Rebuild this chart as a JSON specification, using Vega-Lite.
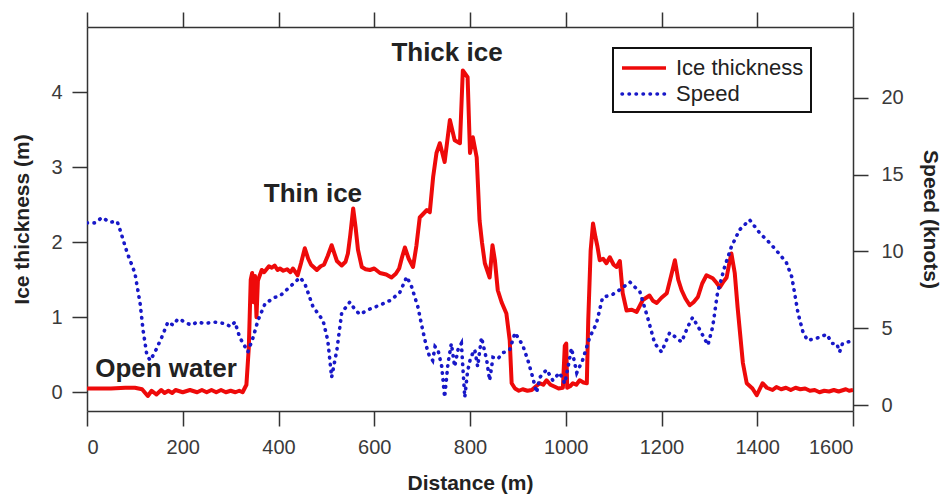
{
  "$schema": "https://vega.github.io/schema/vega-lite/v6.json",
  "width": 766,
  "height": 384,
  "autosize": {"type": "none"},
  "padding": {"left": 87, "top": 27, "right": 89, "bottom": 89},
  "background": "white",
  "config": {
    "view": {"stroke": null},
    "axis": {
      "grid": false,
      "domainColor": "#333333",
      "domainWidth": 1.5,
      "tickColor": "#333333",
      "tickWidth": 1.5,
      "tickSize": 15,
      "labelFont": "Liberation Sans",
      "labelFontSize": 20,
      "labelColor": "#3a3a3a",
      "titleFont": "Liberation Sans",
      "titleFontSize": 21,
      "titleFontWeight": "bold",
      "titleColor": "#222222"
    }
  },
  "datasets": {
    "ice": [
      {"d": 0, "t": 0.05}, {"d": 50, "t": 0.05}, {"d": 80, "t": 0.06}, {"d": 100, "t": 0.06}, {"d": 115, "t": 0.04},
      {"d": 127, "t": -0.05}, {"d": 135, "t": 0.02}, {"d": 145, "t": -0.03}, {"d": 155, "t": 0.03},
      {"d": 162, "t": -0.01}, {"d": 170, "t": 0.02}, {"d": 178, "t": -0.01}, {"d": 185, "t": 0.03}, {"d": 200, "t": 0.0}, {"d": 215, "t": 0.03},
      {"d": 230, "t": 0.0}, {"d": 240, "t": 0.03}, {"d": 250, "t": 0.0}, {"d": 260, "t": 0.03}, {"d": 270, "t": 0.0}, {"d": 280, "t": 0.03}, {"d": 290, "t": 0.0},
      {"d": 300, "t": 0.02}, {"d": 310, "t": 0.0}, {"d": 318, "t": 0.02}, {"d": 325, "t": 0.0}, {"d": 333, "t": 0.1}, {"d": 338, "t": 0.6},
      {"d": 342, "t": 1.5}, {"d": 345, "t": 1.59}, {"d": 348, "t": 1.2}, {"d": 351, "t": 1.55},
      {"d": 354, "t": 1.0}, {"d": 357, "t": 1.49}, {"d": 365, "t": 1.63}, {"d": 370, "t": 1.6}, {"d": 380, "t": 1.68},
      {"d": 386, "t": 1.66}, {"d": 392, "t": 1.69}, {"d": 398, "t": 1.63}, {"d": 403, "t": 1.65}, {"d": 410, "t": 1.62}, {"d": 418, "t": 1.64}, {"d": 425, "t": 1.6}, {"d": 430, "t": 1.65},
      {"d": 440, "t": 1.56}, {"d": 447, "t": 1.72}, {"d": 455, "t": 1.92}, {"d": 462, "t": 1.78}, {"d": 468, "t": 1.7}, {"d": 475, "t": 1.66}, {"d": 480, "t": 1.63},
      {"d": 488, "t": 1.68}, {"d": 495, "t": 1.7}, {"d": 503, "t": 1.82}, {"d": 511, "t": 1.96}, {"d": 522, "t": 1.75}, {"d": 532, "t": 1.69},
      {"d": 540, "t": 1.74}, {"d": 545, "t": 1.85}, {"d": 550, "t": 2.1}, {"d": 556, "t": 2.45}, {"d": 561, "t": 2.2}, {"d": 566, "t": 1.9}, {"d": 574, "t": 1.67},
      {"d": 582, "t": 1.64}, {"d": 591, "t": 1.63}, {"d": 600, "t": 1.65}, {"d": 612, "t": 1.59}, {"d": 625, "t": 1.57}, {"d": 636, "t": 1.53}, {"d": 645, "t": 1.58}, {"d": 652, "t": 1.65},
      {"d": 658, "t": 1.8}, {"d": 664, "t": 1.93}, {"d": 672, "t": 1.78}, {"d": 681, "t": 1.67}, {"d": 688, "t": 1.95}, {"d": 695, "t": 2.33}, {"d": 710, "t": 2.43},
      {"d": 716, "t": 2.4}, {"d": 723, "t": 2.87}, {"d": 730, "t": 3.19}, {"d": 737, "t": 3.32},
      {"d": 747, "t": 3.07}, {"d": 758, "t": 3.63}, {"d": 768, "t": 3.36}, {"d": 779, "t": 3.32},
      {"d": 785, "t": 4.29}, {"d": 795, "t": 4.2}, {"d": 800, "t": 3.19}, {"d": 806, "t": 3.4},
      {"d": 814, "t": 3.13}, {"d": 820, "t": 2.29}, {"d": 825, "t": 2.0}, {"d": 831, "t": 1.72},
      {"d": 841, "t": 1.53}, {"d": 847, "t": 1.96}, {"d": 852, "t": 1.76}, {"d": 858, "t": 1.36},
      {"d": 866, "t": 1.2}, {"d": 876, "t": 1.05}, {"d": 883, "t": 0.69}, {"d": 887, "t": 0.12}, {"d": 894, "t": 0.05},
      {"d": 902, "t": 0.02}, {"d": 910, "t": 0.04}, {"d": 920, "t": 0.02}, {"d": 929, "t": 0.03}, {"d": 938, "t": 0.08}, {"d": 946, "t": 0.12}, {"d": 953, "t": 0.1}, {"d": 960, "t": 0.16},
      {"d": 968, "t": 0.1}, {"d": 975, "t": 0.08}, {"d": 985, "t": 0.05}, {"d": 994, "t": 0.06}, {"d": 998, "t": 0.62},
      {"d": 1001, "t": 0.65}, {"d": 1003, "t": 0.06}, {"d": 1009, "t": 0.08}, {"d": 1015, "t": 0.12}, {"d": 1022, "t": 0.1}, {"d": 1029, "t": 0.16},
      {"d": 1037, "t": 0.13}, {"d": 1044, "t": 0.12}, {"d": 1047, "t": 0.96}, {"d": 1052, "t": 1.89}, {"d": 1057, "t": 2.25},
      {"d": 1062, "t": 2.07}, {"d": 1066, "t": 1.95}, {"d": 1071, "t": 1.76}, {"d": 1078, "t": 1.78}, {"d": 1085, "t": 1.72},
      {"d": 1092, "t": 1.8}, {"d": 1100, "t": 1.7}, {"d": 1106, "t": 1.67}, {"d": 1113, "t": 1.75},
      {"d": 1119, "t": 1.32}, {"d": 1127, "t": 1.09}, {"d": 1138, "t": 1.1}, {"d": 1148, "t": 1.07}, {"d": 1161, "t": 1.23},
      {"d": 1175, "t": 1.29}, {"d": 1182, "t": 1.22}, {"d": 1190, "t": 1.19}, {"d": 1200, "t": 1.26}, {"d": 1211, "t": 1.32}, {"d": 1220, "t": 1.55}, {"d": 1228, "t": 1.76},
      {"d": 1235, "t": 1.5}, {"d": 1242, "t": 1.36}, {"d": 1250, "t": 1.25}, {"d": 1259, "t": 1.16}, {"d": 1267, "t": 1.2}, {"d": 1276, "t": 1.27}, {"d": 1285, "t": 1.45}, {"d": 1294, "t": 1.56},
      {"d": 1307, "t": 1.52}, {"d": 1315, "t": 1.46}, {"d": 1322, "t": 1.4}, {"d": 1330, "t": 1.48}, {"d": 1336, "t": 1.53}, {"d": 1341, "t": 1.7}, {"d": 1346, "t": 1.85},
      {"d": 1353, "t": 1.59}, {"d": 1359, "t": 1.13}, {"d": 1370, "t": 0.39}, {"d": 1378, "t": 0.12},
      {"d": 1390, "t": 0.05}, {"d": 1399, "t": -0.04}, {"d": 1411, "t": 0.12}, {"d": 1420, "t": 0.06}, {"d": 1432, "t": 0.03},
      {"d": 1440, "t": 0.07}, {"d": 1450, "t": 0.04}, {"d": 1460, "t": 0.06}, {"d": 1470, "t": 0.03}, {"d": 1480, "t": 0.06}, {"d": 1490, "t": 0.04}, {"d": 1500, "t": 0.05}, {"d": 1510, "t": 0.02},
      {"d": 1520, "t": 0.03}, {"d": 1530, "t": 0.0}, {"d": 1540, "t": 0.02}, {"d": 1550, "t": 0.01}, {"d": 1560, "t": 0.03}, {"d": 1570, "t": 0.01}, {"d": 1585, "t": 0.04},
      {"d": 1592, "t": 0.02}, {"d": 1600, "t": 0.03}
    ],
    "speed": [
      {"d": 0, "s": 11.85}, {"d": 17, "s": 11.85}, {"d": 31, "s": 12.2}, {"d": 48, "s": 11.9},
      {"d": 63, "s": 11.95}, {"d": 69, "s": 11.4}, {"d": 84, "s": 9.9}, {"d": 100, "s": 8.6},
      {"d": 111, "s": 6.6}, {"d": 117, "s": 4.9}, {"d": 125, "s": 3.26}, {"d": 132, "s": 2.9},
      {"d": 142, "s": 3.45}, {"d": 156, "s": 4.4}, {"d": 169, "s": 5.4}, {"d": 180, "s": 5.2},
      {"d": 190, "s": 5.6}, {"d": 198, "s": 5.5}, {"d": 210, "s": 5.3}, {"d": 219, "s": 5.2},
      {"d": 230, "s": 5.4}, {"d": 246, "s": 5.3}, {"d": 265, "s": 5.4}, {"d": 288, "s": 5.3},
      {"d": 300, "s": 5.1}, {"d": 309, "s": 5.4}, {"d": 319, "s": 4.4}, {"d": 330, "s": 3.8},
      {"d": 336, "s": 3.45}, {"d": 347, "s": 4.4}, {"d": 357, "s": 5.5}, {"d": 372, "s": 6.6},
      {"d": 392, "s": 7.0}, {"d": 403, "s": 7.1}, {"d": 424, "s": 7.7}, {"d": 445, "s": 8.3},
      {"d": 455, "s": 7.9}, {"d": 472, "s": 6.4}, {"d": 493, "s": 5.5}, {"d": 503, "s": 4.2},
      {"d": 511, "s": 1.8}, {"d": 522, "s": 3.6}, {"d": 532, "s": 6.0}, {"d": 549, "s": 6.7},
      {"d": 560, "s": 6.2}, {"d": 570, "s": 5.9}, {"d": 587, "s": 6.2}, {"d": 612, "s": 6.5},
      {"d": 633, "s": 6.8}, {"d": 653, "s": 7.3}, {"d": 668, "s": 8.35}, {"d": 678, "s": 7.7},
      {"d": 691, "s": 6.4}, {"d": 701, "s": 4.9}, {"d": 709, "s": 3.8}, {"d": 715, "s": 3.2},
      {"d": 722, "s": 2.9}, {"d": 727, "s": 3.8}, {"d": 733, "s": 3.6}, {"d": 741, "s": 2.5},
      {"d": 747, "s": 0.5}, {"d": 754, "s": 2.7}, {"d": 761, "s": 4.0}, {"d": 768, "s": 2.5},
      {"d": 775, "s": 3.6}, {"d": 782, "s": 4.0}, {"d": 789, "s": 0.5}, {"d": 795, "s": 2.2},
      {"d": 800, "s": 2.9}, {"d": 806, "s": 3.4}, {"d": 810, "s": 3.6}, {"d": 816, "s": 2.5},
      {"d": 824, "s": 4.4}, {"d": 835, "s": 2.9}, {"d": 841, "s": 1.6}, {"d": 848, "s": 3.1},
      {"d": 858, "s": 3.0}, {"d": 869, "s": 3.4}, {"d": 883, "s": 3.6}, {"d": 894, "s": 4.7},
      {"d": 910, "s": 3.9}, {"d": 921, "s": 2.9}, {"d": 931, "s": 1.8}, {"d": 939, "s": 0.8},
      {"d": 946, "s": 1.8}, {"d": 960, "s": 2.3}, {"d": 973, "s": 1.6}, {"d": 987, "s": 2.1},
      {"d": 998, "s": 1.4}, {"d": 1005, "s": 2.5}, {"d": 1012, "s": 3.7}, {"d": 1023, "s": 2.1},
      {"d": 1035, "s": 2.9}, {"d": 1050, "s": 4.4}, {"d": 1064, "s": 5.3}, {"d": 1077, "s": 7.0},
      {"d": 1098, "s": 7.2}, {"d": 1113, "s": 7.5}, {"d": 1134, "s": 8.0}, {"d": 1155, "s": 7.35},
      {"d": 1171, "s": 5.7}, {"d": 1186, "s": 4.0}, {"d": 1200, "s": 3.45}, {"d": 1217, "s": 4.7},
      {"d": 1230, "s": 4.4}, {"d": 1242, "s": 4.1}, {"d": 1255, "s": 5.1}, {"d": 1265, "s": 5.7},
      {"d": 1280, "s": 4.9}, {"d": 1297, "s": 3.9}, {"d": 1307, "s": 5.1}, {"d": 1317, "s": 7.3},
      {"d": 1332, "s": 9.0}, {"d": 1346, "s": 10.3}, {"d": 1363, "s": 11.4}, {"d": 1384, "s": 12.05},
      {"d": 1405, "s": 11.2}, {"d": 1426, "s": 10.55}, {"d": 1447, "s": 9.8}, {"d": 1461, "s": 9.25},
      {"d": 1472, "s": 8.35}, {"d": 1478, "s": 7.3}, {"d": 1485, "s": 6.0}, {"d": 1495, "s": 4.8},
      {"d": 1505, "s": 4.2}, {"d": 1530, "s": 4.4}, {"d": 1545, "s": 4.6}, {"d": 1557, "s": 4.0},
      {"d": 1566, "s": 4.0}, {"d": 1572, "s": 3.45}, {"d": 1578, "s": 4.0}, {"d": 1600, "s": 4.2}
    ],
    "notes": [
      {"label": "Thick ice", "d": 752, "t": 4.53},
      {"label": "Thin ice", "d": 472, "t": 2.65},
      {"label": "Open water", "d": 165, "t": 0.31}
    ]
  },
  "layer": [
    {
      "data": {"name": "ice"},
      "mark": {"type": "line", "strokeWidth": 4, "strokeJoin": "round", "clip": true},
      "encoding": {
        "x": {
          "field": "d", "type": "quantitative",
          "scale": {"domain": [0, 1600], "nice": false, "zero": false},
          "axis": {"orient": "bottom", "title": "Distance (m)", "format": "d", "values": [0, 200, 400, 600, 800, 1000, 1200, 1400, 1600], "labelPadding": 11, "titlePadding": 15}
        },
        "y": {
          "field": "t", "type": "quantitative",
          "scale": {"domain": [-0.25, 4.87], "nice": false, "zero": false},
          "axis": {"orient": "left", "title": "Ice thickness (m)", "values": [0, 1, 2, 3, 4], "labelPadding": 10, "titlePadding": 18}
        },
        "color": {
          "datum": "Ice thickness",
          "scale": {"domain": ["Ice thickness", "Speed"], "range": ["#ee0a0a", "#1818c8"]},
          "legend": {
            "title": null, "orient": "none", "legendX": 526, "legendY": 21,
            "strokeColor": "#111111", "fillColor": "white", "padding": 7,
            "symbolType": "M-1,0H3", "symbolSize": 484, "symbolStrokeWidth": 3.5,
            "labelFont": "Liberation Sans", "labelFontSize": 22, "labelColor": "#222222",
            "labelOffset": 30, "rowPadding": 2,
            "encode": {
              "legend": {"update": {"strokeWidth": {"value": 2}}},
              "symbols": {
                "update": {
                  "strokeDash": {"signal": "datum.value === 'Speed' ? [0.5, 6.5] : [1, 0]"},
                  "strokeCap": {"signal": "datum.value === 'Speed' ? 'round' : 'butt'"}
                }
              }
            }
          }
        }
      }
    },
    {
      "data": {"name": "speed"},
      "mark": {"type": "line", "strokeWidth": 3.6, "strokeCap": "round", "strokeDash": [0.5, 6.5], "clip": true},
      "encoding": {
        "x": {
          "field": "d", "type": "quantitative",
          "scale": {"domain": [0, 1600], "nice": false, "zero": false},
          "axis": {"orient": "top", "title": null, "labels": false, "values": [0, 200, 400, 600, 800, 1000, 1200, 1400, 1600]}
        },
        "y": {
          "field": "s", "type": "quantitative",
          "scale": {"domain": [-0.39, 24.6], "nice": false, "zero": false},
          "axis": {"orient": "right", "title": "Speed (knots)", "values": [0, 5, 10, 15, 20], "labelPadding": 13, "titlePadding": 16}
        },
        "color": {"datum": "Speed", "scale": {"domain": ["Ice thickness", "Speed"], "range": ["#ee0a0a", "#1818c8"]}}
      }
    },
    {
      "data": {"name": "notes"},
      "mark": {"type": "text", "font": "Liberation Sans", "fontSize": 26, "fontWeight": "bold", "color": "#222222", "align": "center", "baseline": "middle"},
      "encoding": {
        "x": {"field": "d", "type": "quantitative", "scale": {"domain": [0, 1600], "nice": false, "zero": false}, "axis": null},
        "y": {"field": "t", "type": "quantitative", "scale": {"domain": [-0.25, 4.87], "nice": false, "zero": false}, "axis": null},
        "text": {"field": "label", "type": "nominal"}
      }
    }
  ],
  "resolve": {
    "scale": {"y": "independent"},
    "axis": {"x": "independent", "y": "independent"}
  }
}
